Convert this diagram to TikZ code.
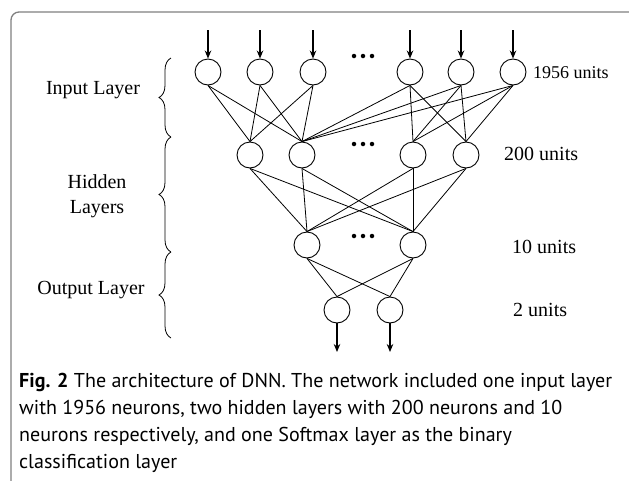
\documentclass[tikz,border=0pt]{standalone}
\usepackage{fontspec}
\setmainfont{Liberation Serif}
\setsansfont{PT Sans}
\usetikzlibrary{arrows.meta,decorations.pathreplacing}
\newlength\capwd
\begin{document}
\settowidth\capwd{\sffamily\fontsize{10}{12}\selectfont\textbf{Fig. 2} The architecture of DNN. The network included one input layer}%
\begin{tikzpicture}[x=1pt,y=-1pt,
  neuron/.style={circle,draw,line width=0.9pt,minimum size=26pt,inner sep=0pt},
  link/.style={line width=0.8pt},
  io/.style={line width=1.6pt,-{Stealth[length=8pt,width=6.5pt]}},
  dotmark/.style={fill,circle,inner sep=0pt,minimum size=4.5pt},
  unitlabel/.style={font=\fontsize{20}{22}\selectfont,anchor=west,inner sep=0pt},
  layerlabel/.style={font=\fontsize{20}{25}\selectfont,align=center,inner sep=0pt},
  layerbrace/.style={decorate,decoration={brace,amplitude=12pt},line width=0.8pt},
  frame/.style={draw=black!50,line width=1.3pt,rounded corners=8pt},
]
\useasboundingbox (0,0) rectangle (629,480);

% outer frame (only the top and left sides are visible)
\draw[frame] (11,520) |- (680,12);

% neurons
\foreach \n/\x in {1/208,2/260,3/313,4/410,5/461,6/513}
  \node[neuron] (i\n) at (\x,72) {};
\foreach \n/\x in {1/250,2/302,3/413,4/466}
  \node[neuron] (h\n) at (\x,155) {};
\foreach \n/\x in {1/307,2/413}
  \node[neuron] (m\n) at (\x,245) {};
\foreach \n/\x in {1/337,2/390}
  \node[neuron] (o\n) at (\x,310) {};

% ellipsis dots in each wide layer
\foreach \r/\y in {a/56,b/144,c/236}
  \foreach \k/\x in {1/354,2/363,3/372}
    \node[dotmark] (d\r\k) at (\x,\y) {};

% inputs and outputs
\foreach \n/\x in {1/208,2/260,3/313,4/410,5/461,6/513}{
  \coordinate (ai\n) at (\x,30);
  \draw[io] (ai\n) -- (i\n.north);
}
\foreach \n/\x in {1/337,2/390}{
  \coordinate (ao\n) at (\x,352);
  \draw[io] (o\n.south) -- (ao\n);
}

% connections
\foreach \s in {1,2,3}
  \foreach \t in {1,2}
    \draw[link] (i\s.south) -- (h\t.north);
\foreach \s in {4,5,6}
  \foreach \t in {2,3,4}
    \draw[link] (i\s.south) -- (h\t.north);
\foreach \s in {1,2,3,4}
  \foreach \t in {1,2}
    \draw[link] (h\s.south) -- (m\t.north);
\foreach \s in {1,2}
  \foreach \t in {1,2}
    \draw[link] (m\s.south) -- (o\t.north);

% unit counts
\node[unitlabel,font=\fontsize{18}{20}\selectfont] (u1) at (533,73) {1956 units};
\node[unitlabel] (u2) at (504,154) {200 units};
\node[unitlabel] (u3) at (512,247) {10 units};
\node[unitlabel] (u4) at (513,310) {2 units};

% layer names and braces
\node[layerlabel] (l1) at (93,90) {Input Layer};
\node[layerlabel] (l2) at (97,196) {Hidden\\Layers};
\node[layerlabel] (l3) at (91,290) {Output Layer};
\coordinate (b0) at (171,58);
\coordinate (b1) at (171,137);
\coordinate (b2) at (171,252);
\coordinate (b3) at (171,338);
\draw[layerbrace] (b1) -- (b0);
\draw[layerbrace] (b2) -- (b1);
\draw[layerbrace] (b3) -- (b2);

% caption, sized so that its first line spans the text width
\pgfmathsetmacro\capsize{10*593/max(\capwd,1pt)}
\tikzset{captext/.style={font=\sffamily\fontsize{\capsize}{\capsize}\selectfont,anchor=base west,inner sep=0pt}}
\node[captext] (c1) at (19,387) {\textbf{Fig. 2} The architecture of DNN. The network included one input layer};
\node[captext] (c2) at (19,414) {with 1956 neurons, two hidden layers with 200 neurons and 10};
\node[captext] (c3) at (19,441) {neurons respectively, and one Softmax layer as the binary};
\node[captext] (c4) at (19,468) {classification layer};
\end{tikzpicture}
\end{document}
